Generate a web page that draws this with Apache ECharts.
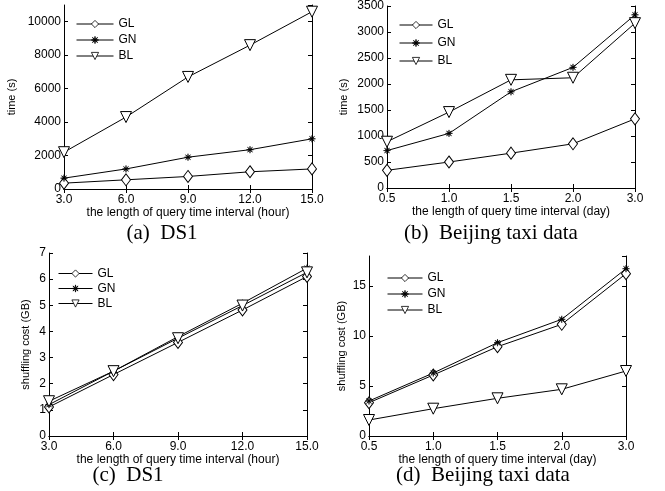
<!DOCTYPE html>
<html>
<head>
<meta charset="utf-8">
<script src="https://cdn.jsdelivr.net/npm/echarts@6/dist/echarts.min.js"></script>
<style>
  html, body { margin: 0; padding: 0; background: #fff; }
  #main { width: 665px; height: 491px; }
</style>
</head>
<body>
<div id="main"></div>
<script>
// x categories
var xHour = ['3.0', '6.0', '9.0', '12.0', '15.0'];
var xDay = ['0.5', '1.0', '1.5', '2.0', '3.0'];

// (a) time, DS1
var timeDsGL = [350, 550, 750, 1030, 1200];
var timeDsGN = [650, 1200, 1900, 2350, 3000];
var timeDsBL = [2200, 4300, 6700, 8600, 10600];

// (b) time, Beijing taxi
var timeTaxiGL = [340, 500, 670, 850, 1330];
var timeTaxiGN = [720, 1050, 1850, 2320, 3330];
var timeTaxiBL = [890, 1460, 2080, 2120, 3170];

// (c) shuffling cost, DS1
var shufDsGL = [1.11, 2.35, 3.58, 4.82, 6.10];
var shufDsGN = [1.20, 2.48, 3.80, 5.08, 6.42];
var shufDsBL = [1.33, 2.48, 3.74, 4.99, 6.26];

// (d) shuffling cost, Beijing taxi
var shufTaxiGL = [3.33, 6.10, 8.93, 11.17, 16.23];
var shufTaxiGN = [3.50, 6.30, 9.33, 11.67, 16.73];
var shufTaxiBL = [1.60, 2.73, 3.77, 4.67, 6.50];

var captions = ['(a)  DS1', '(b)  Beijing taxi data', '(c)  DS1', '(d)  Beijing taxi data'];

var starPath = 'path://M10 5 L6.11 5.46 L8.54 8.54 L5.46 6.11 L5 10 L4.54 6.11 L1.46 8.54 L3.89 5.46 L0 5 L3.89 4.54 L1.46 1.46 L4.54 3.89 L5 0 L5.46 3.89 L8.54 1.46 L6.11 4.54 Z';

var font = 'Liberation Sans, Arial, sans-serif';

var panels = [
    {grid: {left: 64, top: 5, width: 248, height: 184}, cats: xHour, xName: 'the length of query time interval (hour)',
        yName: 'time (s)', yMin: 0, yMax: 11000, yInt: 2000, yGap: 47,
        data: [timeDsGL, timeDsGN, timeDsBL], legend: {left: 76, top: 17, itemWidth: 37, itemGap: 2}},
    {grid: {left: 387, top: 5, width: 248, height: 183}, cats: xDay, xName: 'the length of query time interval (day)',
        yName: 'time (s)', yMin: 0, yMax: 3500, yInt: 500, yGap: 38,
        data: [timeTaxiGL, timeTaxiGN, timeTaxiBL], legend: {left: 399, top: 18, itemWidth: 33, itemGap: 4}},
    {grid: {left: 49, top: 253, width: 258, height: 183}, cats: xHour, xName: 'the length of query time interval (hour)',
        yName: 'shuffling cost (GB)', yMin: 0, yMax: 7, yInt: 1, yGap: 18,
        data: [shufDsGL, shufDsGN, shufDsBL], legend: {left: 58, top: 266.5, itemWidth: 34, itemGap: 1}},
    {grid: {left: 369, top: 256, width: 257, height: 180}, cats: xDay, xName: 'the length of query time interval (day)',
        yName: 'shuffling cost (GB)', yMin: 0, yMax: 18, yInt: 5, yGap: 22,
        data: [shufTaxiGL, shufTaxiGN, shufTaxiBL], legend: {left: 387, top: 271, itemWidth: 35, itemGap: 2}}
];

var captionPos = [[162, 223], [491, 223], [128, 465], [483, 465]];

var seriesStyle = [
    {name: 'GL', symbol: 'diamond', symbolSize: [9, 12], symbolRotate: 0},
    {name: 'GN', symbol: starPath, symbolSize: 7, symbolRotate: 0},
    {name: 'BL', symbol: 'triangle', symbolSize: 11, symbolRotate: 180}
];

var option = {
    animation: false,
    backgroundColor: '#fff',
    title: [],
    legend: [],
    grid: [],
    xAxis: [],
    yAxis: [],
    series: []
};

panels.forEach(function (p, i) {
    option.grid.push(Object.assign({show: false, containLabel: false}, p.grid));

    // bottom x axis with labels
    option.xAxis.push({
        type: 'category', gridIndex: i, data: p.cats, boundaryGap: false, position: 'bottom',
        name: p.xName, nameLocation: 'middle', nameGap: 18,
        nameTextStyle: {color: '#000', fontFamily: font, fontSize: 12},
        axisLine: {lineStyle: {color: '#000', width: 1}},
        axisTick: {inside: true, length: 4, lineStyle: {color: '#000'}},
        axisLabel: {color: '#000', fontFamily: font, fontSize: 12, margin: 5},
        splitLine: {show: false}
    });
    // top x axis, ticks only
    option.xAxis.push({
        type: 'category', gridIndex: i, data: p.cats, boundaryGap: false, position: 'top',
        axisLine: {lineStyle: {color: '#000', width: 1}},
        axisTick: {inside: true, length: 4, lineStyle: {color: '#000'}},
        axisLabel: {show: false},
        splitLine: {show: false}
    });
    // left y axis with labels
    option.yAxis.push({
        type: 'value', gridIndex: i, position: 'left', min: p.yMin, max: p.yMax, interval: p.yInt,
        name: p.yName, nameLocation: 'middle', nameGap: p.yGap,
        nameTextStyle: {color: '#000', fontFamily: font, fontSize: 11},
        axisLine: {show: true, lineStyle: {color: '#000', width: 1}},
        axisTick: {show: true, inside: true, length: 4, lineStyle: {color: '#000'}},
        axisLabel: {
            color: '#000', fontFamily: font, fontSize: 12, margin: 3,
            showMaxLabel: p.yMax % p.yInt === 0,
            formatter: function (v) { return String(v); }
        },
        splitLine: {show: false}
    });
    // right y axis, ticks only
    option.yAxis.push({
        type: 'value', gridIndex: i, position: 'right', min: p.yMin, max: p.yMax, interval: p.yInt,
        axisLine: {show: true, lineStyle: {color: '#000', width: 1}},
        axisTick: {show: true, inside: true, length: 4, lineStyle: {color: '#000'}},
        axisLabel: {show: false},
        splitLine: {show: false}
    });

    option.legend.push({
        orient: 'vertical', left: p.legend.left, top: p.legend.top, padding: 0,
        itemWidth: p.legend.itemWidth, itemHeight: 9, itemGap: p.legend.itemGap,
        data: ['GL', 'GN', 'BL'],
        itemStyle: {borderWidth: 0.8},
        lineStyle: {width: 1, color: '#000'},
        textStyle: {color: '#000', fontFamily: font, fontSize: 12, lineHeight: 14},
        selectedMode: false
    });

    option.title.push({
        text: captions[i], left: captionPos[i][0], top: captionPos[i][1], textAlign: 'center', padding: 0,
        textStyle: {color: '#000', fontFamily: 'Liberation Serif, Times New Roman, serif', fontSize: 21, fontWeight: 'normal'}
    });

    p.data.forEach(function (vals, k) {
        var s = seriesStyle[k];
        option.series.push({
            name: s.name, type: 'line', xAxisIndex: i * 2, yAxisIndex: i * 2, data: vals,
            symbol: s.symbol, symbolSize: s.symbolSize, symbolRotate: s.symbolRotate,
            showAllSymbol: true,
            lineStyle: {color: '#000', width: 1},
            itemStyle: {color: k === 1 ? '#000' : '#fff', borderColor: '#000', borderWidth: k === 1 ? 0.6 : 1},
            emphasis: {disabled: true}
        });
    });
});

var myChart = echarts.init(document.getElementById('main'), null, {renderer: 'canvas'});
myChart.setOption(option);

window.addEventListener('resize', function () {
    myChart.resize();
});
</script>
</body>
</html>
